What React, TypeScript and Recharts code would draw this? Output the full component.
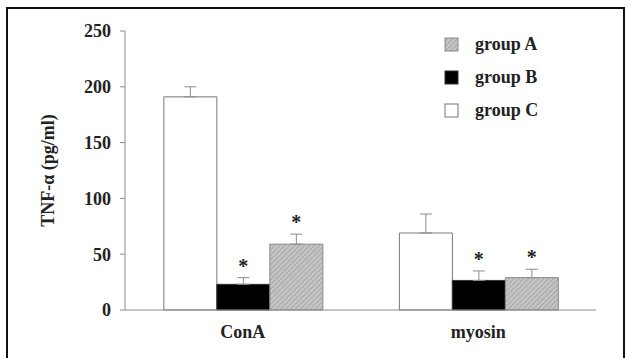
import React from 'react';
import { BarChart, Bar, XAxis, YAxis, ErrorBar, LabelList } from 'recharts';

const categories = ['ConA', 'myosin'];
const groupC = [191, 69];
const errC = [9, 17];
const groupB = [23, 26.5];
const errB = [6, 8.5];
const groupA = [59, 29];
const errA = [9, 7.5];
const sigB = [true, true];
const sigA = [true, true];
const yTicks = [0, 50, 100, 150, 200, 250];

const data = categories.map((c, i) => ({
  name: c,
  C: groupC[i],
  B: groupB[i],
  A: groupA[i],
  eC: [0, errC[i]],
  eB: [0, errB[i]],
  eA: [0, errA[i]],
}));

const FONT = '"Liberation Serif", "Times New Roman", serif';
const AXIS = '#8c8c8c';

const makeStar = (vals: number[], errs: number[], sig: boolean[]) => (props: any) => {
  const { x, y, width, height, index } = props;
  if (!sig[index]) return null;
  const v = vals[index];
  const pxPer = v ? height / v : 0;
  const top = y - errs[index] * pxPer;
  return (
    <text x={x + width / 2} y={top - 5} textAnchor="middle" fontFamily={FONT} fontWeight="bold" fontSize={20} fill="#222">
      *
    </text>
  );
};

const legendItems = [
  { label: 'group A', fill: 'url(#hatch)', stroke: '#888' },
  { label: 'group B', fill: '#000', stroke: '#333' },
  { label: 'group C', fill: '#fff', stroke: '#777' },
];

const Legend = () => (
  <div style={{ position: 'absolute', left: 444, top: 33 }}>
    {legendItems.map((it, i) => (
      <div key={it.label} style={{ position: 'absolute', top: i * 33, left: 0, height: 22, width: 120 }}>
        <svg width={16} height={16} style={{ position: 'absolute', left: 0, top: 4 }}>
          <rect x={1} y={1} width={13} height={13} fill={it.fill} stroke={it.stroke} strokeWidth={1} />
        </svg>
        <span style={{ position: 'absolute', left: 31, top: 0, fontFamily: FONT, fontWeight: 'bold', fontSize: 18, color: '#222', whiteSpace: 'nowrap', lineHeight: '22px' }}>
          {it.label}
        </span>
      </div>
    ))}
  </div>
);

const YLabel = (props: any) => {
  const vb = props.viewBox || {};
  const cx = 48;
  const cy = (vb.y ?? 31) + (vb.height ?? 279) / 2;
  return (
    <text x={cx} y={cy} transform={`rotate(-90 ${cx} ${cy})`} textAnchor="middle" dominantBaseline="central" fontFamily={FONT} fontWeight="bold" fontSize={18} fill="#222">
      TNF-α (pg/ml)
    </text>
  );
};

export default function App() {
  return (
    <div style={{ position: 'absolute', left: 0, top: 0, width: 631, height: 358, background: '#fff', overflow: 'hidden' }}>
      <svg width={0} height={0} style={{ position: 'absolute' }}>
        <defs>
          <pattern id="hatch" width="3.5" height="3.5" patternUnits="userSpaceOnUse" patternTransform="rotate(45)">
            <rect width="3.5" height="3.5" fill="#c4c4c4" />
            <line x1="0" y1="0" x2="0" y2="3.5" stroke="#9a9a9a" strokeWidth="1.3" />
          </pattern>
        </defs>
      </svg>
      <div style={{ position: 'absolute', left: 6, top: 7, width: 615, height: 400, borderTop: '2px solid #111', borderLeft: '2px solid #111', borderRight: '2px solid #111' }} />
      <div style={{ position: 'absolute', left: 0, top: 0 }}>
        <BarChart width={631} height={358} data={data} margin={{ top: 31, right: 35, bottom: 18, left: 0 }} barCategoryGap="16.5%" barGap={0}>
          <XAxis dataKey="name" height={30} axisLine={{ stroke: AXIS }} tickLine={false} tickSize={6} tickMargin={9}
            tick={{ fontFamily: FONT, fontWeight: 'bold', fontSize: 18, fill: '#222' }} />
          <YAxis width={125} domain={[0, 250]} ticks={yTicks} interval={0} axisLine={{ stroke: AXIS }}
            tickLine={{ stroke: AXIS }} tickSize={5} tickMargin={9}
            tick={{ fontFamily: FONT, fontWeight: 'bold', fontSize: 18, fill: '#222' }}
            label={{ content: YLabel }} />
          <Bar dataKey="C" fill="#fff" stroke="#777" strokeWidth={1} isAnimationActive={false}>
            <ErrorBar dataKey="eC" width={6} stroke={AXIS} strokeWidth={1} direction="y" />
          </Bar>
          <Bar dataKey="B" fill="#000" stroke="#333" strokeWidth={1} isAnimationActive={false}>
            <ErrorBar dataKey="eB" width={6} stroke={AXIS} strokeWidth={1} direction="y" />
            <LabelList dataKey="B" content={makeStar(groupB, errB, sigB)} />
          </Bar>
          <Bar dataKey="A" fill="url(#hatch)" stroke="#888" strokeWidth={1} isAnimationActive={false}>
            <ErrorBar dataKey="eA" width={6} stroke={AXIS} strokeWidth={1} direction="y" />
            <LabelList dataKey="A" content={makeStar(groupA, errA, sigA)} />
          </Bar>
        </BarChart>
      </div>
      <Legend />
    </div>
  );
}
